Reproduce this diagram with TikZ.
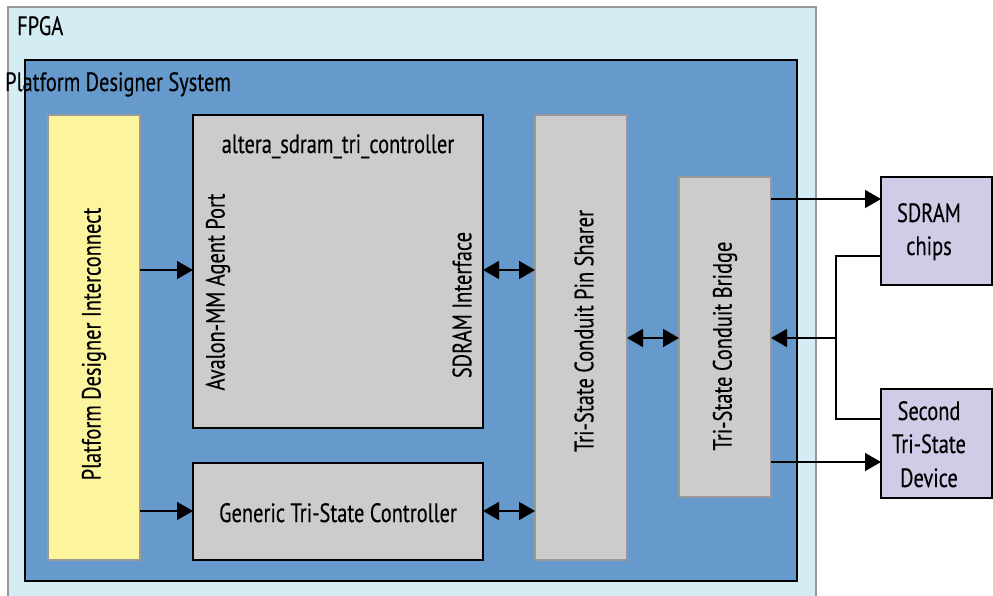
\documentclass[tikz,border=0pt]{standalone}
\usepackage{fontspec}
\newfontfamily\cf{PT Sans}[FakeStretch=0.77,FakeBold=0.3]
\usetikzlibrary{arrows.meta}
\definecolor{fpgafill}{HTML}{D4ECF3}
\definecolor{pdsfill}{HTML}{6699CC}
\definecolor{yel}{HTML}{FCF59E}
\definecolor{gry}{HTML}{CCCCCC}
\definecolor{bord}{HTML}{999999}
\definecolor{purp}{HTML}{CECCE6}
\begin{document}
\begin{tikzpicture}[x=1pt,y=-1pt,
  box/.style={rectangle,inner sep=0pt,outer sep=0pt},
  lbl/.style={inner sep=0pt,font=\cf\fontsize{26.5}{30}\selectfont},
  arr/.style={line width=1.5pt,-{Triangle[length=16pt,width=18pt]}},
  darr/.style={line width=1.5pt,{Triangle[length=16pt,width=18pt]}-{Triangle[length=16pt,width=18pt]}},
  ln/.style={line width=1.5pt}]
\useasboundingbox (0,0) rectangle (993,595);
\fill[white] (0,0) rectangle (993,595);
% containers
\node[box,draw=bord,fill=fpgafill,line width=1.5pt,minimum width=808pt,minimum height=598pt] (fpga) at (412,306) {};
\node[box,draw=black,fill=pdsfill,line width=2pt,minimum width=772pt,minimum height=521pt] (pds) at (411,320.5) {};
\node[lbl,anchor=base west] (fpgat) at (17,35) {FPGA};
\node[lbl,anchor=base west] (pdst) at (5,91) {Platform Designer System};
% blocks
\node[box,draw=bord,fill=yel,line width=1.5pt,minimum width=92pt,minimum height=445pt] (pdi) at (94,337.5) {};
\node[box,draw=black,fill=gry,line width=1.5pt,minimum width=290pt,minimum height=313pt] (alt) at (338,271.5) {};
\node[box,draw=black,fill=gry,line width=1.5pt,minimum width=290pt,minimum height=97pt] (gen) at (338,511.5) {};
\node[box,draw=bord,fill=gry,line width=1.5pt,minimum width=92pt,minimum height=445pt] (pin) at (581,337.5) {};
\node[box,draw=bord,fill=gry,line width=1.5pt,minimum width=92pt,minimum height=320pt] (brg) at (725,337) {};
\node[box,draw=black,fill=purp,line width=1.5pt,minimum width=111pt,minimum height=108pt] (sdr) at (936.5,231) {};
\node[box,draw=black,fill=purp,line width=1.5pt,minimum width=111pt,minimum height=109pt] (sec) at (936.5,443.5) {};
% labels
\node[lbl,rotate=90] (pdil) at (94,344) {Platform Designer Interconnect};
\node[lbl,anchor=base] (altl) at (338,153) {altera\_sdram\_tri\_controller};
\node[lbl,rotate=90] (avl) at (218,292) {Avalon-MM Agent Port};
\node[lbl,rotate=90] (sdil) at (462,305) {SDRAM Interface};
\node[lbl,rotate=90] (pinl) at (584,331) {Tri-State Conduit Pin Sharer};
\node[lbl,rotate=90] (brgl) at (725,346) {Tri-State Conduit Bridge};
\node[lbl,anchor=base] (genl) at (338,522) {Generic Tri-State Controller};
\node[lbl,anchor=base] (sdr1) at (929,222) {SDRAM};
\node[lbl,anchor=base] (sdr2) at (929,255) {chips};
\node[lbl,anchor=base] (sec1) at (929,420) {Second};
\node[lbl,anchor=base] (sec2) at (929,453) {Tri-State};
\node[lbl,anchor=base] (sec3) at (929,487) {Device};
% connectors
\draw[arr] (pdi.east |- 0,270) -- (alt.west |- 0,270);
\draw[arr] (pdi.east |- 0,511) -- (gen.west |- 0,511);
\draw[darr] (alt.east |- 0,270) -- (pin.west |- 0,270);
\draw[darr] (gen.east |- 0,511) -- (pin.west |- 0,511);
\draw[darr] (pin.east |- 0,338) -- (brg.west |- 0,338);
\draw[arr] (brg.east |- 0,199) -- (sdr.west |- 0,199);
\draw[arr] (brg.east |- 0,462) -- (sec.west |- 0,462);
\coordinate (j) at (836,338);
\draw[ln] (sdr.west |- 0,256) -| (j) |- (sec.west |- 0,419);
\draw[arr] (j) -- (brg.east |- j);
\end{tikzpicture}
\end{document}
